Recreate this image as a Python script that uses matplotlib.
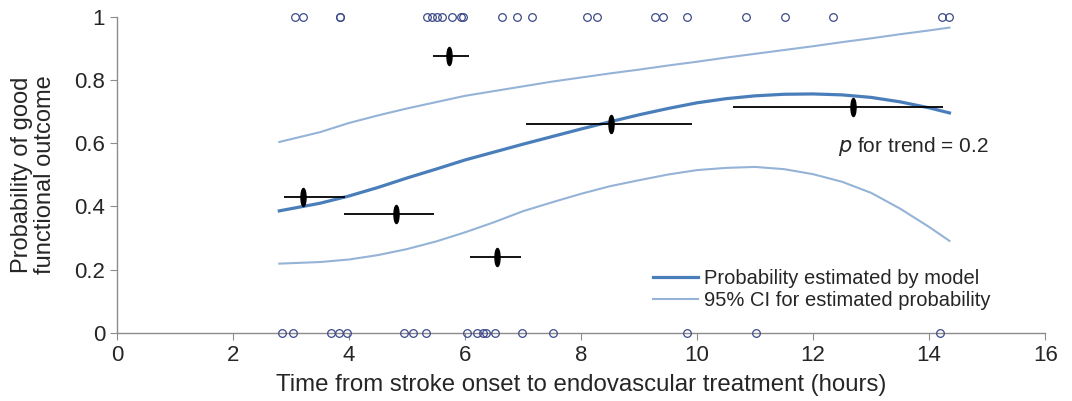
import numpy as np
import matplotlib
matplotlib.use('Agg')
import matplotlib.pyplot as plt
from matplotlib.path import Path
from matplotlib.transforms import Affine2D

plt.rcParams['font.family'] = ['Liberation Sans', 'DejaVu Sans']

# individual patients (outcome 1 = good, 0 = poor)
good_x = [3.07, 3.21, 3.84, 3.84, 5.34, 5.43, 5.52, 5.60, 5.78, 5.93, 5.96,
          6.64, 6.90, 7.16, 8.10, 8.28, 9.28, 9.41, 9.83, 10.84, 11.52, 12.34,
          14.22, 14.35]
poor_x = [2.85, 3.03, 3.69, 3.83, 3.96, 4.95, 5.11, 5.32, 6.04, 6.20, 6.31,
          6.37, 6.51, 6.98, 7.51, 9.83, 11.02, 14.18]

# grouped observed proportions
bin_x = [3.21, 4.81, 5.72, 6.55, 8.52, 12.69]
bin_y = [0.43, 0.375, 0.875, 0.24, 0.66, 0.715]
bin_lo = [2.88, 3.91, 5.45, 6.09, 7.05, 10.62]
bin_hi = [3.93, 5.47, 6.07, 6.97, 9.91, 14.24]

# model curve and CI
curve_x = [2.8, 3.5, 4.0, 4.5, 5.0, 5.5, 6.0, 6.5, 7.0, 7.5, 8.0, 8.5, 9.0, 9.5,
           10.0, 10.5, 11.0, 11.5, 12.0, 12.5, 13.0, 13.5, 14.0, 14.35]
model_p = [0.386, 0.41, 0.433, 0.46, 0.49, 0.518, 0.547, 0.572, 0.597, 0.621, 0.645, 0.668,
           0.69, 0.71, 0.728, 0.741, 0.75, 0.755, 0.756, 0.753, 0.745, 0.731, 0.712, 0.696]
ci_upper = [0.604, 0.635, 0.664, 0.688, 0.71, 0.73, 0.75, 0.765, 0.78, 0.795, 0.808, 0.821,
            0.833, 0.846, 0.858, 0.871, 0.883, 0.895, 0.907, 0.92, 0.932, 0.945, 0.957, 0.966]
ci_lower = [0.219, 0.224, 0.232, 0.246, 0.265, 0.289, 0.318, 0.35, 0.385, 0.413, 0.44, 0.464,
            0.483, 0.501, 0.515, 0.522, 0.525, 0.518, 0.502, 0.478, 0.443, 0.393, 0.335, 0.291]

dark_blue = '#4a7ebb'
light_blue = '#95b3d7'
circ_col = '#3d4a8a'
axis_col = '#8c8c8c'
text_col = '#262626'

fig = plt.figure(figsize=(10.72, 4.01), dpi=100)
ax = fig.add_axes([0.109, 0.170, 0.866, 0.788])

ax.plot(curve_x, model_p, color=dark_blue, lw=2.3, label='Probability estimated by model', zorder=3)
ax.plot(curve_x, ci_upper, color=light_blue, lw=1.5, label='95% CI for estimated probability', zorder=2)
ax.plot(curve_x, ci_lower, color=light_blue, lw=1.5, zorder=2)

ax.plot(good_x, np.ones(len(good_x)), 'o', ms=5.5, mfc='none', mec=circ_col, mew=0.9,
        clip_on=False, zorder=4)
ax.plot(poor_x, np.zeros(len(poor_x)), 'o', ms=5.5, mfc='none', mec=circ_col, mew=0.9,
        clip_on=False, zorder=4)

ell = Path.unit_circle().transformed(Affine2D().scale(0.28, 1.0))
ax.hlines(bin_y, bin_lo, bin_hi, color='black', lw=1.3, zorder=5)
ax.plot(bin_x, bin_y, ls='none', marker=ell, ms=13, color='black', zorder=6)

ax.text(12.43, 0.59, r'$p$ for trend = 0.2', fontsize=15, color=text_col, va='center', ha='left')

ax.set_xlim(0, 16)
ax.set_ylim(0, 1)
ax.set_xticks(np.arange(0, 17, 2))
ax.set_yticks([0, 0.2, 0.4, 0.6, 0.8, 1])
ax.set_yticklabels(['0', '0.2', '0.4', '0.6', '0.8', '1'])
for s in ['top', 'right']:
    ax.spines[s].set_visible(False)
for s in ['left', 'bottom']:
    ax.spines[s].set_color(axis_col)
    ax.spines[s].set_linewidth(1.0)
ax.tick_params(colors=axis_col, labelcolor=text_col, labelsize=16, length=5, direction='out')

ax.set_xlabel('Time from stroke onset to endovascular treatment (hours)', fontsize=17.3,
              color=text_col, labelpad=6)
ax.set_ylabel('Probability of good\nfunctional outcome', fontsize=17, color=text_col,
              linespacing=1.02)
ax.yaxis.set_label_coords(-0.066, 0.5)

leg = ax.legend(loc='upper left', bbox_to_anchor=(0.567, 0.235), frameon=False, fontsize=14.5,
                handlelength=2.2, handletextpad=0.3, labelspacing=0.18, borderpad=0)
for t in leg.get_texts():
    t.set_color(text_col)

fig.savefig('out.png', dpi=100)
